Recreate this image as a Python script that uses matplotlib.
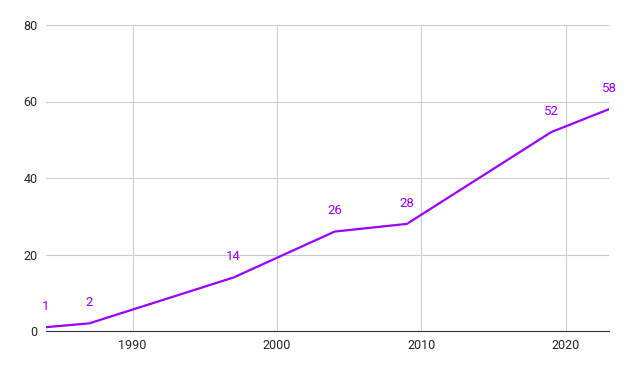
import matplotlib.pyplot as plt

years = [1984, 1987, 1997, 2004, 2009, 2019, 2023]
values = [1, 2, 14, 26, 28, 52, 58]
xticks = [1990, 2000, 2010, 2020]
yticks = [0, 20, 40, 60, 80]

plt.rcParams['font.family'] = ['Roboto', 'DejaVu Sans']
purple = '#9900ff'

fig = plt.figure(figsize=(6.28, 3.71), dpi=100)
ax = fig.add_axes([46/628, 40/371, 563/628, 306/371])

ax.plot(years, values, color=purple, lw=1.6, solid_joinstyle='round', zorder=3)

for x, y in zip(years, values):
    # faint leader line from point to label
    ax.annotate(str(y), xy=(x, y), xytext=(0, 15), textcoords='offset points',
                ha='center', va='center', color=purple, fontsize=9.5,
                arrowprops=dict(arrowstyle='-', color='#e4e4e4', lw=0.8,
                                shrinkA=6, shrinkB=1))

ax.set_xlim(1984, 2023)
ax.set_ylim(0, 80)
ax.set_xticks(xticks)
ax.set_yticks(yticks)
ax.grid(True, color='#cccccc', lw=0.8)
ax.set_axisbelow(True)
for s in ['top', 'right', 'left']:
    ax.spines[s].set_visible(False)
ax.spines['bottom'].set_color('#333333')
ax.tick_params(length=0, labelsize=9, colors='#222222', pad=6)

fig.savefig('out.png', dpi=100)
